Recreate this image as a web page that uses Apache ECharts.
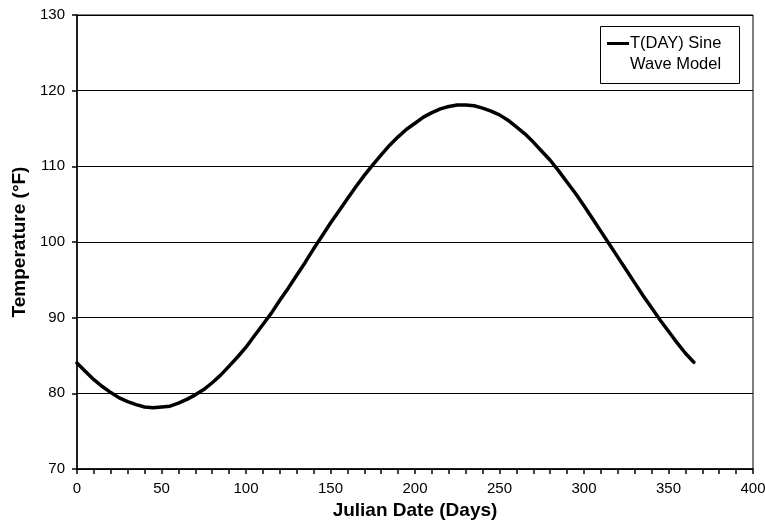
<!DOCTYPE html>
<html>
<head>
<meta charset="utf-8">
<script src="https://cdn.jsdelivr.net/npm/echarts@6/dist/echarts.min.js"></script>
<style>html,body{margin:0;padding:0;background:#fff}#c{width:765px;height:531px}</style>
</head>
<body>
<div id="c"></div>
<script>
const days = [0,5,10,15,20,25,30,35,40,45,50,55,60,65,70,75,80,85,90,95,100,105,110,115,120,125,130,135,140,145,150,155,160,165,170,175,180,185,190,195,200,205,210,215,220,225,230,235,240,245,250,255,260,265,270,275,280,285,290,295,300,305,310,315,320,325,330,335,340,345,350,355,360,365];
const temps = [84.0,82.9,81.8,80.9,80.1,79.4,78.9,78.5,78.2,78.1,78.2,78.3,78.7,79.2,79.8,80.5,81.4,82.4,83.6,84.8,86.1,87.6,89.1,90.6,92.3,93.9,95.6,97.3,99.1,100.8,102.5,104.1,105.7,107.3,108.8,110.2,111.5,112.8,113.9,114.9,115.7,116.5,117.1,117.6,117.9,118.1,118.1,118.0,117.7,117.3,116.8,116.1,115.2,114.3,113.2,112.0,110.8,109.4,107.9,106.4,104.8,103.1,101.4,99.7,98.0,96.3,94.6,92.9,91.3,89.7,88.2,86.7,85.3,84.1];
const seriesName = 'T(DAY) Sine Wave Model';
const legendLines = ['T(DAY) Sine', 'Wave Model'];
const xTitle = 'Julian Date (Days)';
const yTitle = 'Temperature (°F)';

const chart = echarts.init(document.getElementById('c'));
const font = 'Liberation Sans, Arial, sans-serif';
chart.setOption({
  animation: false,
  grid: {left: 77, right: 12, top: 15, bottom: 62, show: true, borderColor: '#000', borderWidth: 1, containLabel: false, outerBoundsMode: 'none'},
  xAxis: {
    type: 'value', min: 0, max: 400, interval: 50,
    name: xTitle, nameLocation: 'middle', nameGap: 31,
    nameTextStyle: {fontFamily: font, fontWeight: 'bold', fontSize: 19, color: '#000'},
    axisLine: {show: true, lineStyle: {color: '#000', width: 1.5}},
    axisTick: {show: true, length: 5, inside: false, lineStyle: {color: '#000', width: 1.5}},
    minorTick: {show: true, splitNumber: 5, length: 5, lineStyle: {color: '#000', width: 1.5}},
    axisLabel: {fontFamily: font, fontSize: 15, color: '#000', margin: 12},
    splitLine: {show: false}
  },
  yAxis: {
    type: 'value', min: 70, max: 130, interval: 10,
    name: yTitle, nameLocation: 'middle', nameGap: 45,
    nameTextStyle: {fontFamily: font, fontWeight: 'bold', fontSize: 19, color: '#000'},
    axisLine: {show: true, lineStyle: {color: '#000', width: 1.5}},
    axisTick: {show: true, length: 5, lineStyle: {color: '#000', width: 1.5}},
    axisLabel: {fontFamily: font, fontSize: 15, color: '#000', margin: 12},
    splitLine: {show: true, lineStyle: {color: '#000', width: 1}}
  },
  series: [{
    name: seriesName, type: 'line', smooth: false, showSymbol: false,
    lineStyle: {color: '#000', width: 3.5, join: 'round', cap: 'round'},
    data: days.map((d, i) => [d, temps[i]])
  }],
  graphic: [
    {type: 'rect', left: 600, top: 26, shape: {width: 139, height: 57}, style: {fill: '#fff', stroke: '#000', lineWidth: 1}, z: 100},
    {type: 'line', shape: {x1: 607, y1: 43.5, x2: 629, y2: 43.5}, style: {stroke: '#000', lineWidth: 3}, z: 101},
    {type: 'text', left: 630, top: 33, style: {text: legendLines.join('\n'), font: '16.5px ' + font, fill: '#000', lineHeight: 21}, z: 101}
  ]
});
</script>
</body>
</html>
